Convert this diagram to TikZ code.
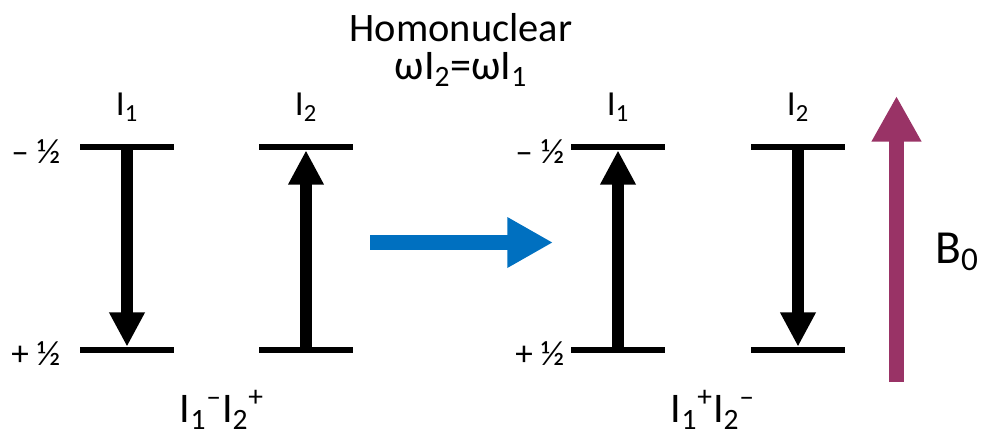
\documentclass[tikz,border=0pt]{standalone}
\usepackage{fontspec}
\setmainfont{Carlito}
\usetikzlibrary{arrows.meta}
\definecolor{azulflecha}{HTML}{0070C0}
\definecolor{campoB}{HTML}{993366}

\begin{document}
\begin{tikzpicture}[
    x=0.02cm, y=-0.02cm,
    nivel/.style={rectangle, fill=black, inner sep=0, minimum width=54pt, minimum height=3.4pt},
    espin/.style={line width=6.8pt, -{Triangle[length=19.5pt, width=19pt]}},
    etiq/.style={font=\fontsize{20}{23}\selectfont},
    energia/.style={font=\fontsize{20}{23}\selectfont},
    estado/.style={font=\fontsize{24}{28}\selectfont}
]
\useasboundingbox (0,0) rectangle (984,434);

% ============================================
% TITULO
% ============================================
\node[font=\fontsize{23}{21.5}\selectfont, align=center, inner sep=0] (tit) at (461,50)
    {Homonuclear\\\fontsize{24}{21.5}\selectfont ωI\textsubscript{2}=ωI\textsubscript{1}};

% ============================================
% ESTADO INICIAL I1- I2+
% ============================================

% Etiquetas
\node[etiq] (a1) at (127,107) {I\textsubscript{1}};
\node[etiq] (a2) at (306,107) {I\textsubscript{2}};
\node[energia] (ma) at (36,152) {– ½};
\node[energia] (pa) at (36,354) {+ ½};

% Niveles
\node[nivel] (s1) at (127,147) {};
\node[nivel] (i1) at (127,350) {};
\node[nivel] (s2) at (306,147) {};
\node[nivel] (i2) at (306,350) {};

% Espines
\draw[espin] (s1.center) -- (i1.north);
\draw[espin] (i2.center) -- (s2.south);

\node[estado] (ea) at (222,410) {I\textsubscript{1}\textsuperscript{–}I\textsubscript{2}\textsuperscript{+}};

% ============================================
% FLECHA DE TRANSICION
% ============================================
\coordinate (ini) at (370,242.5);
\coordinate (fin) at (553,242.5);
\draw[azulflecha, line width=8.5pt, -{Triangle[length=26pt, width=27pt]}] (ini) -- (fin);

% ============================================
% ESTADO FINAL I1+ I2-
% ============================================

% Etiquetas
\node[etiq] (b1) at (618,107) {I\textsubscript{1}};
\node[etiq] (b2) at (798,107) {I\textsubscript{2}};
\node[energia] (mb) at (540,152) {– ½};
\node[energia] (pb) at (540,354) {+ ½};

% Niveles
\node[nivel] (s3) at (618,147) {};
\node[nivel] (i3) at (618,350) {};
\node[nivel] (s4) at (798,147) {};
\node[nivel] (i4) at (798,350) {};

% Espines
\draw[espin] (i3.center) -- (s3.south);
\draw[espin] (s4.center) -- (i4.north);

\node[estado] (eb) at (713,410) {I\textsubscript{1}\textsuperscript{+}I\textsubscript{2}\textsuperscript{–}};

% ============================================
% CAMPO B0
% ============================================
\coordinate (base) at (896.5,382);
\coordinate (punta) at (896.5,96);
\draw[campoB, line width=8.5pt, -{Triangle[length=26pt, width=26.6pt]}] (base) -- (punta);
\node[font=\fontsize{27}{30}\selectfont] (b0) at (957,252) {B\textsubscript{0}};

\end{tikzpicture}
\end{document}
